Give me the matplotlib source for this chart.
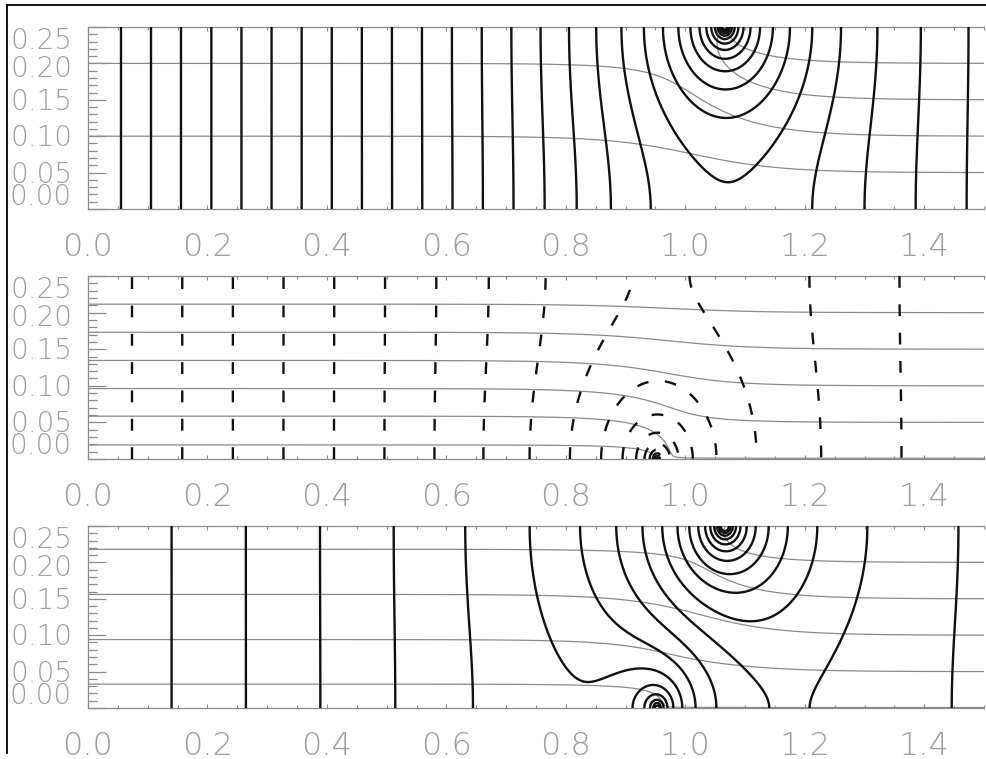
import numpy as np
import matplotlib
matplotlib.use("Agg")
import matplotlib.pyplot as plt
from matplotlib.lines import Line2D
from matplotlib.ticker import MultipleLocator

# ---- channel geometry ------------------------------------------------------
CHANNEL_H = 0.25
X_MAX = 1.5

# wall singularities: source on the upper wall, sink on the lower wall
top_x = 1.066
bot_x = 0.953

# potential-field coefficients (contour levels are spaced by one unit)
top_strength = 39.3
bot_strength = 24.6
top_drift = -0.19
bot_drift = 0.5
# gradient relief towards the downstream end: (amount, centre, width)
top_relief = (7.6, 1.229, 0.06)
bot_relief = (5.8, 1.045, 0.05)

# fractional offset of the contour levels in each panel
level_shift = [0.85, 0.86, 0.10]
level_range = [(-10, 20), (-8, 20), (-10, 9)]

# streamline fluxes (upper-wall source, lower-wall sink) and plotted levels
stream_top = [1.0, 0.0, 0.368]
stream_bot = [0.0, -0.2308, -0.128]
stream_levels = [
    [0.1, 0.2, 0.3, 0.4],
    [-0.0385, 0.0008, 0.0385, 0.0769, 0.1154, 0.1538],
    [0.0008, 0.062, 0.124, 0.186, 0.248],
]

# axis labelling
x_ticks = [0.0, 0.2, 0.4, 0.6, 0.8, 1.0, 1.2, 1.4]
x_tick_labels = ["0.0", "0.2", "0.4", "0.6", "0.8", "1.0", "1.2", "1.4"]
y_tick_labels = ["0.25", "0.20", "0.15", "0.10", "0.05", "0.00"]
y_label_pos = [0.2336, 0.1950, 0.1500, 0.1000, 0.0500, 0.0199]

# panel placement in pixels: (top, bottom)
W_PX, H_PX = 986, 759
AX_LEFT, AX_RIGHT = 88, 984
panel_rows = [(27, 209), (276, 459), (526, 708)]

GRAY = "#8a8a8a"
LABEL_GRAY = "#9e9e9e"
INK = "#111111"

# ---- fields ---------------------------------------------------------------
nx, ny = 301, 51
xg = np.linspace(0.0, X_MAX, nx)
yg = np.linspace(0.0, CHANNEL_H, ny)
X, Y = np.meshgrid(xg, yg)
Z = X + 1j * Y


def wall_point(z, xs, upper):
    """Real and imaginary parts of the channel Green's function for a point
    on the upper (upper=True) or lower wall at abscissa xs."""
    w = np.pi * (z - xs) / CHANNEL_H
    e = np.exp(w)
    q = 1.0 + e if upper else e - 1.0
    mod = np.maximum(np.abs(q), 1e-12)
    ang = np.arctan2(np.abs(q.imag), q.real)
    re = CHANNEL_H / np.pi * np.log(mod) - (z.real - xs) / 2.0
    im = CHANNEL_H / np.pi * ang
    return re, im


def relief(x, params):
    amount, centre, width = params
    return amount * width * np.logaddexp(0.0, (x - centre) / width)


re_top, im_top = wall_point(Z, top_x, True)
re_bot, im_bot = wall_point(Z, bot_x, False)

phi_top = top_strength * re_top + top_drift * X - relief(X, top_relief)
phi_bot = bot_strength * re_bot + bot_drift * X - relief(X, bot_relief)
potentials = [phi_top, phi_bot, phi_top - phi_bot]

streams = [Y + stream_top[k] * im_top + stream_bot[k] * im_bot for k in range(3)]

# ---- figure ---------------------------------------------------------------
plt.rcParams["lines.dashed_pattern"] = [5.0, 7.0]
fig = plt.figure(figsize=(W_PX / 100, H_PX / 100), dpi=100)

for k, (top, bot) in enumerate(panel_rows):
    ax = fig.add_axes([AX_LEFT / W_PX, 1 - bot / H_PX,
                       (AX_RIGHT - AX_LEFT) / W_PX, (bot - top) / H_PX])
    ax.set_xlim(0, X_MAX)
    ax.set_ylim(0, CHANNEL_H)

    ax.contour(X, Y, streams[k], levels=stream_levels[k], colors=GRAY,
               linewidths=0.9, linestyles="solid", zorder=2)

    lo, hi = level_range[k]
    levels = np.arange(lo, hi) + level_shift[k]
    style = "dashed" if k == 1 else "solid"
    ax.contour(X, Y, potentials[k], levels=levels, colors=INK,
               linewidths=1.7, linestyles=style, negative_linestyles=style,
               zorder=3)

    for side in ("top", "bottom", "left"):
        ax.spines[side].set_color(GRAY)
        ax.spines[side].set_linewidth(0.9)
    ax.spines["right"].set_visible(False)

    ax.yaxis.set_major_locator(MultipleLocator(0.05))
    ax.yaxis.set_minor_locator(MultipleLocator(0.01))
    ax.xaxis.set_major_locator(MultipleLocator(0.2))
    ax.xaxis.set_minor_locator(MultipleLocator(0.05))
    ax.tick_params(axis="y", which="major", direction="in", length=13,
                   width=0.9, color=GRAY, left=True, right=False,
                   labelleft=False)
    ax.tick_params(axis="y", which="minor", direction="in", length=6.5,
                   width=0.9, color=GRAY, left=True, right=False)
    ax.tick_params(axis="x", which="major", direction="in", length=3.2,
                   width=0.8, color=GRAY, top=True, bottom=True,
                   labelbottom=False)
    ax.tick_params(axis="x", which="minor", direction="in", length=2.4,
                   width=0.8, color=GRAY, top=True, bottom=True)

    for lab, yv in zip(y_tick_labels, y_label_pos):
        ax.annotate(lab, xy=(0, yv), xycoords=("axes fraction", "data"),
                    xytext=(-11.5, -7.2), textcoords="offset points",
                    ha="right", va="baseline", fontsize=20,
                    color=LABEL_GRAY, family="DejaVu Sans",
                    fontweight=200, annotation_clip=False)
    for lab, xv in zip(x_tick_labels, x_ticks):
        ax.annotate(lab, xy=(xv, 0), xycoords=("data", "axes fraction"),
                    xytext=(0, -33.6), textcoords="offset points",
                    ha="center", va="baseline", fontsize=23,
                    color=LABEL_GRAY, family="DejaVu Sans",
                    fontweight=200, annotation_clip=False)

# page frame lines
fig.add_artist(Line2D([7 / W_PX, 1.0], [1 - 5 / H_PX] * 2,
                      transform=fig.transFigure, color="black", lw=1.3))
fig.add_artist(Line2D([7 / W_PX] * 2, [1 - 5 / H_PX, 1 - 753 / H_PX],
                      transform=fig.transFigure, color="black", lw=1.3))

fig.savefig("out.png", dpi=100)
